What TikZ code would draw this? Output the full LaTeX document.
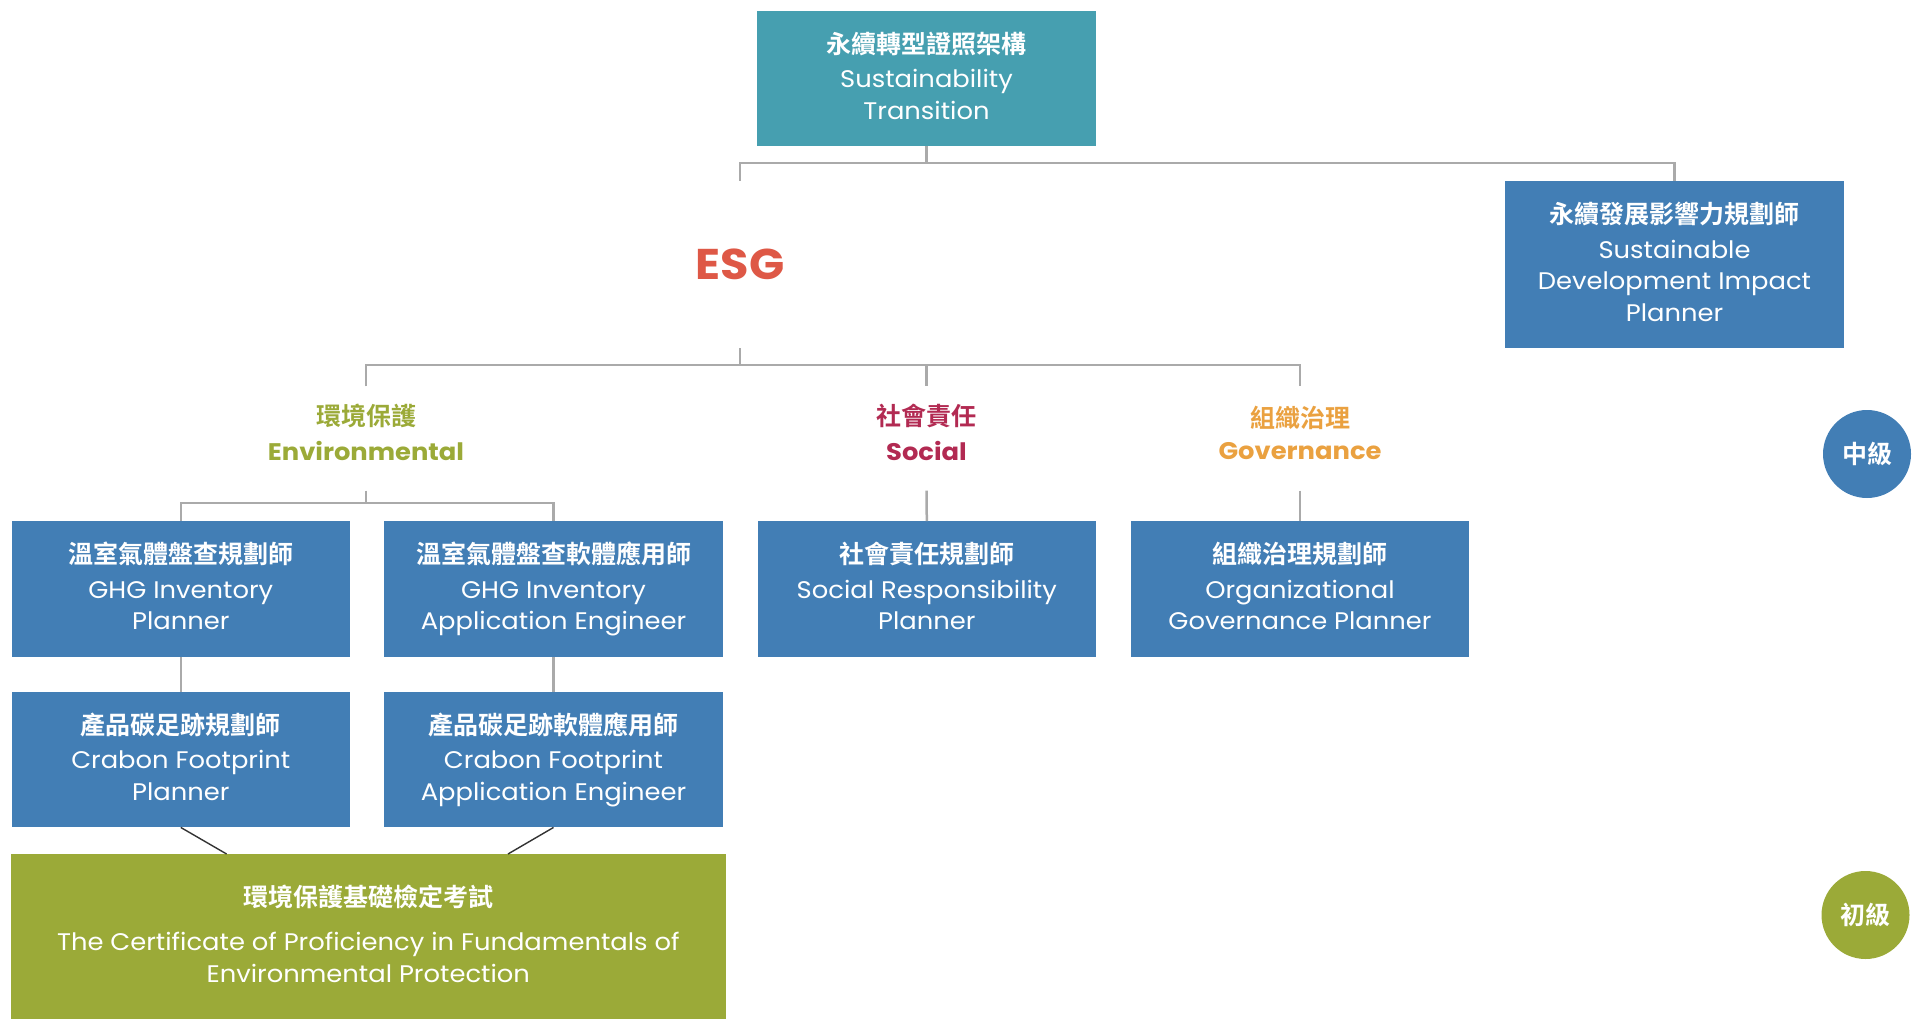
\documentclass[tikz,border=0pt]{standalone}
\usepackage{fontspec}
\setmainfont{Poppins}[FakeStretch=1.075]
\newfontfamily\cjk{Noto Sans CJK TC}[BoldFont={* Bold}]
\definecolor{cteal}{HTML}{469FB0}
\definecolor{cblue}{HTML}{427EB5}
\definecolor{cgreen}{HTML}{9BAA38}
\definecolor{cesg}{HTML}{DE5846}
\definecolor{csoc}{HTML}{B22A52}
\definecolor{cgov}{HTML}{EAA140}
\definecolor{cline}{HTML}{AAAAAA}
\newcommand{\zh}{\cjk\bfseries\fontsize{25}{31.5}\selectfont}
\newcommand{\dstrut}{\rule[-6pt]{0pt}{6pt}}
\newcommand{\cstrut}{\rule[-12pt]{0pt}{12pt}}
\begin{document}
\begin{tikzpicture}[x=1pt,y=-1pt,
  box/.style={draw=none, inner sep=0pt, align=center, text=white,
    font=\fontsize{24}{31.5}\selectfont, minimum width=338.5pt, minimum height=135.5pt},
  ghost/.style={inner sep=0pt, align=center, minimum width=20pt},
  cat/.style={ghost, minimum height=104pt},
  conn/.style={draw=cline, line width=2.5pt},
  diag/.style={draw=black!80, line width=1.4pt},
  lvl/.style={circle, inner sep=0pt, minimum size=88pt, text=white, font=\zh}
]
\useasboundingbox (0,0) rectangle (1918,1030);
% top
\node[box, fill=cteal] (top) at (926.5,78.5) {{\zh 永續轉型證照架構}\\[3pt]Sustainability\\Transition\dstrut};
\node[box, fill=cblue, minimum height=167pt] (sdip) at (1674.5,264.5) {{\zh 永續發展影響力規劃師}\\[3pt]Sustainable\\Development Impact\\Planner\dstrut};
\node[ghost, minimum height=167pt, text=cesg, font=\bfseries\fontsize{43}{43}\selectfont] (esg) at (740,264.5) {ESG};
\coordinate (j1) at (926.5,163);
\draw[conn] (top.south) -- (j1);
\draw[conn] (esg.north) |- (j1) -| (sdip.north);
% categories
\node[cat, text=cgreen] (env) at (366,438.5) {{\zh 環境保護}\\[12pt]{\bfseries\fontsize{24}{31.5}\selectfont Environmental}\cstrut};
\node[cat, text=csoc] (soc) at (926.5,438.5) {{\zh 社會責任}\\[12pt]{\bfseries\fontsize{24}{31.5}\selectfont Social}\cstrut};
\node[cat, text=cgov] (gov) at (1300,438.5) {{\zh 組織治理}\\[12pt]{\bfseries\fontsize{24}{31.5}\selectfont Governance}\cstrut};
\coordinate (j2) at (740,365);
\draw[conn] (esg.south) -- (j2);
\draw[conn] (env.north) |- (j2) -| (gov.north);
\draw[conn] (j2) -| (soc.north);
% row 1
\node[box, fill=cblue] (ghg1) at (180.8,589) {{\zh 溫室氣體盤查規劃師}\\[3pt]GHG Inventory\\Planner\dstrut};
\node[box, fill=cblue] (ghg2) at (553.5,589) {{\zh 溫室氣體盤查軟體應用師}\\[3pt]GHG Inventory\\Application Engineer\dstrut};
\node[box, fill=cblue] (socp) at (926.8,589) {{\zh 社會責任規劃師}\\[3pt]Social Responsibility\\Planner\dstrut};
\node[box, fill=cblue] (govp) at (1300,589) {{\zh 組織治理規劃師}\\[3pt]Organizational\\Governance Planner\dstrut};
\coordinate (j3) at (366,503);
\draw[conn] (env.south) -- (j3);
\draw[conn] (ghg1.north) |- (j3) -| (ghg2.north);
\draw[conn] (soc.south) -- (socp.north);
\draw[conn] (gov.south) -- (govp.north);
% row 2
\node[box, fill=cblue] (cf1) at (180.8,759.5) {{\zh 產品碳足跡規劃師}\\[3pt]Crabon Footprint\\Planner\dstrut};
\node[box, fill=cblue] (cf2) at (553.5,759.5) {{\zh 產品碳足跡軟體應用師}\\[3pt]Crabon Footprint\\Application Engineer\dstrut};
\draw[conn] (ghg1.south) -- (cf1.north);
\draw[conn] (ghg2.south) -- (cf2.north);
% base
\node[box, fill=cgreen, minimum width=715pt, minimum height=165pt] (base) at (368.3,936.5) {{\zh 環境保護基礎檢定考試}\\[13pt]The Certificate of Proficiency in Fundamentals of\\Environmental Protection\dstrut};
\coordinate (d1) at (226.6,854);
\coordinate (d2) at (508,854);
\draw[diag] (cf1.south) -- (d1);
\draw[diag] (cf2.south) -- (d2);
% levels
\node[lvl, fill=cblue] (mid) at (1867,454) {中級};
\node[lvl, fill=cgreen] (basic) at (1865.5,915) {初級};
\end{tikzpicture}
\end{document}
